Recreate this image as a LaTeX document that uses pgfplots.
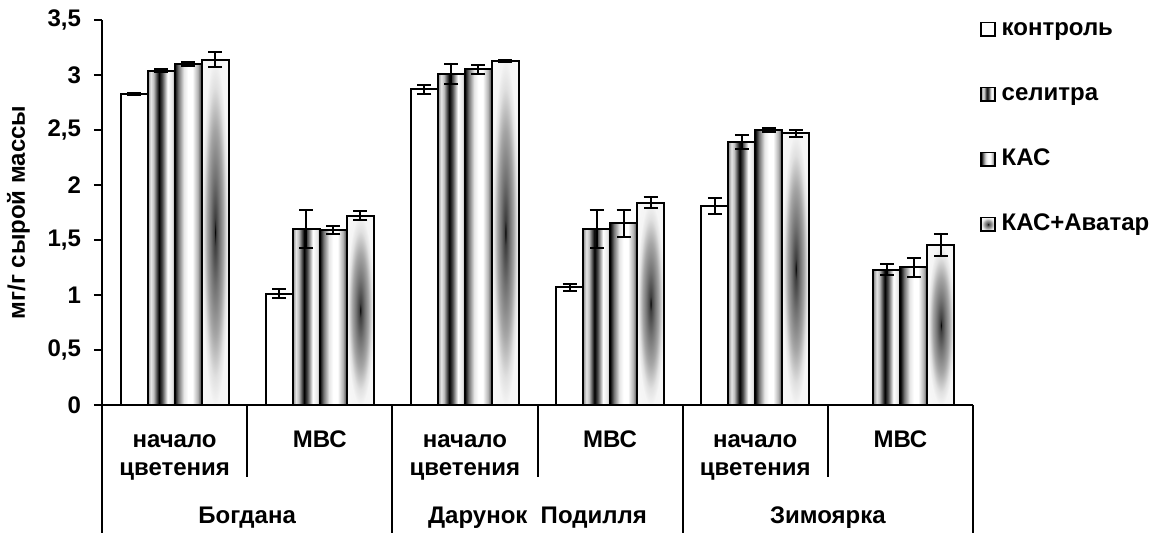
\documentclass[border=0pt]{standalone}
\usepackage{fontspec}
\setmainfont{Liberation Sans}
\usepackage{pgfplots}
\pgfplotsset{compat=1.18}

% shadings: the bar is mapped onto 25bp..75bp
\pgfdeclarehorizontalshading{selitra}{100bp}{color(0bp)=(black!45); color(25bp)=(black!45); color(31bp)=(black!10); color(36bp)=(black!25); color(46bp)=(black); color(52bp)=(black!70); color(62bp)=(white); color(70bp)=(black!10); color(75bp)=(black!35); color(100bp)=(black!35)}
\pgfdeclarehorizontalshading{kas}{100bp}{color(0bp)=(black); color(25bp)=(black); color(32bp)=(black!55); color(42bp)=(black!10); color(50bp)=(white); color(58bp)=(white); color(68bp)=(black!30); color(75bp)=(black!75); color(100bp)=(black!75)}
\pgfdeclareradialshading{avatar}{\pgfpoint{0bp}{0bp}}{color(0bp)=(black); color(2bp)=(black!75); color(8bp)=(black!55); color(15bp)=(black!35); color(21bp)=(black!12); color(25bp)=(black!4); color(50bp)=(white)}

\pgfplotsset{
  barbase/.style={ybar, bar width=13.5pt, bar shift=0pt, draw=black, line width=1pt, forget plot,
     error bars/y dir=both, error bars/y explicit},
  ctrl/.style={barbase, fill=white},
  sel/.style={barbase, shading=selitra},
  kas/.style={barbase, shading=kas},
  ava/.style={barbase, shading=avatar},
}

\begin{document}
\begin{tikzpicture}[font=\bfseries\fontsize{12}{14}\selectfont]
\begin{axis}[
  name=ax,
  scale only axis,
  width=435.5pt, height=192.5pt,
  xmin=-0.5, xmax=5.5, ymin=0, ymax=3.5,
  axis x line*=bottom, axis y line*=left,
  axis line style={line width=1pt, -},
  xtick=\empty,
  ytick={0,0.5,...,3.5},
  yticklabel style={/pgf/number format/use comma, /pgf/number format/assume math mode=true, font=\bfseries\fontsize{12}{14}\selectfont, xshift=-3pt},
  tick style={line width=1pt, black},
  major tick length=4pt,
  tick align=outside,
  ylabel={мг/г сырой массы},
  ylabel style={font=\bfseries\fontsize{12}{14}\selectfont, yshift=2pt},
  clip=false,
  legend style={at={(rel axis cs:1.008,1.008)}, anchor=north west, draw=none, fill=none,
     font=\bfseries\fontsize{12}{14}\selectfont, row sep=20.5pt, inner sep=0pt,
     nodes={text height=9pt, text depth=3pt, inner sep=0pt}},
  legend cell align=left,
  legend image code/.code={\draw[#1, line width=0.9pt] (0pt,-3.4pt) rectangle (6.8pt,3.4pt); \path (10pt,0pt);},
  error bars/error bar style={line width=1pt, black},
  error bars/error mark options={rotate=90, mark size=3.5pt, line width=1pt, black},
]
% контроль  (category c at c-0.279)
\addplot[ctrl] coordinates {(-0.279,2.83) +- (0,0.01)};
\addplot[ctrl] coordinates {(0.721,1.01) +- (0,0.04)};
\addplot[ctrl] coordinates {(1.721,2.87) +- (0,0.04)};
\addplot[ctrl] coordinates {(2.721,1.07) +- (0,0.03)};
\addplot[ctrl] coordinates {(3.721,1.81) +- (0,0.07)};
% селитра  (c-0.093)
\addplot[sel] coordinates {(-0.093,3.04) +- (0,0.01)};
\addplot[sel] coordinates {(0.907,1.60) +- (0,0.17)};
\addplot[sel] coordinates {(1.907,3.01) +- (0,0.09)};
\addplot[sel] coordinates {(2.907,1.60) +- (0,0.17)};
\addplot[sel] coordinates {(3.907,2.39) +- (0,0.06)};
\addplot[sel] coordinates {(4.907,1.23) +- (0,0.05)};
% КАС  (c+0.093)
\addplot[kas] coordinates {(0.093,3.10) +- (0,0.02)};
\addplot[kas] coordinates {(1.093,1.59) +- (0,0.04)};
\addplot[kas] coordinates {(2.093,3.05) +- (0,0.04)};
\addplot[kas] coordinates {(3.093,1.65) +- (0,0.12)};
\addplot[kas] coordinates {(4.093,2.50) +- (0,0.02)};
\addplot[kas] coordinates {(5.093,1.25) +- (0,0.09)};
% КАС+Аватар  (c+0.279)
\addplot[ava] coordinates {(0.279,3.14) +- (0,0.07)};
\addplot[ava] coordinates {(1.279,1.72) +- (0,0.04)};
\addplot[ava] coordinates {(2.279,3.13) +- (0,0.01)};
\addplot[ava] coordinates {(3.279,1.84) +- (0,0.05)};
\addplot[ava] coordinates {(4.279,2.47) +- (0,0.03)};
\addplot[ava] coordinates {(5.279,1.45) +- (0,0.10)};

\addlegendimage{draw=black, fill=white}
\addlegendimage{draw=black, shading=selitra}
\addlegendimage{draw=black, shading=kas}
\addlegendimage{draw=black, shading=avatar}
\legend{контроль, селитра, КАС, КАС+Аватар}

% category separators
\pgfplotsinvokeforeach{0.5,2.5,4.5}{
  \draw[line width=1pt] (axis cs:#1,0) -- ([yshift=-36pt]axis cs:#1,0);
}
\pgfplotsinvokeforeach{-0.5,1.5,3.5,5.5}{
  \draw[line width=1pt] (axis cs:#1,0) -- ([yshift=-64pt]axis cs:#1,0);
}
\pgfplotsinvokeforeach{0,2,4}{
  \node[anchor=base, inner sep=0pt] at ([yshift=-21.5pt]axis cs:#1,0) {начало};
  \node[anchor=base, inner sep=0pt] at ([yshift=-35.5pt]axis cs:#1,0) {цветения};
}
\pgfplotsinvokeforeach{1,3,5}{
  \node[anchor=base, inner sep=0pt] at ([yshift=-21.5pt]axis cs:#1,0) {МВС};
}
\node[anchor=base, inner sep=0pt] at ([yshift=-59.5pt]axis cs:0.5,0) {Богдана};
\node[anchor=base, inner sep=0pt] at ([yshift=-59.5pt]axis cs:2.5,0) {Дарунок~ Подилля};
\node[anchor=base, inner sep=0pt] at ([yshift=-59.5pt]axis cs:4.5,0) {Зимоярка};
\end{axis}
\pgfresetboundingbox
\path[use as bounding box] ([shift={(-51pt,-64pt)}]ax.south west) rectangle ([shift={(532.5pt,202.5pt)}]ax.south west);
\end{tikzpicture}
\end{document}
